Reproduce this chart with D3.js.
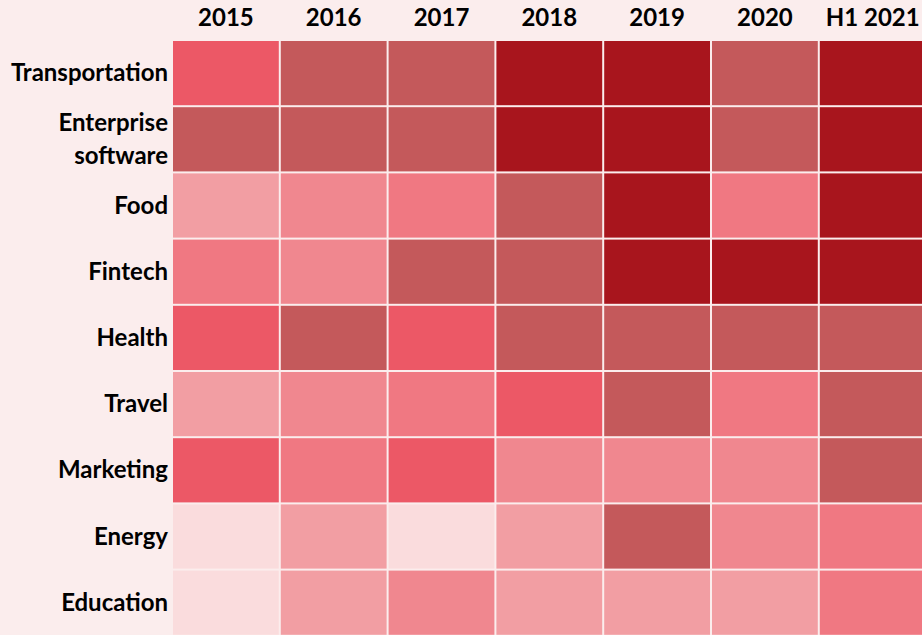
<!DOCTYPE html>
<html lang="en">
<head>
<meta charset="utf-8">
<title>Heatmap</title>
<script src="https://cdn.jsdelivr.net/npm/d3@7"></script>
<style>
    html, body { margin: 0; padding: 0; background: #fbeded; }
    svg { display: block; }
    text { font-family: Lato, "Noto Sans", sans-serif; font-weight: 700; fill: #000; }
</style>
</head>
<body>
<svg id="chart" width="922" height="635"></svg>
<script>
// years across the top
const years = ['2015', '2016', '2017', '2018', '2019', '2020', 'H1 2021'];
// sectors down the side (multi-line labels split with |)
const sectors = ['Transportation', 'Enterprise|software', 'Food', 'Fintech', 'Health',
                 'Travel', 'Marketing', 'Energy', 'Education'];
// intensity level per sector per year (1 = lightest, 7 = darkest)
const levels = [
    [5, 6, 6, 7, 7, 6, 7],
    [6, 6, 6, 7, 7, 6, 7],
    [2, 3, 4, 6, 7, 4, 7],
    [4, 3, 6, 6, 7, 7, 7],
    [5, 6, 5, 6, 6, 6, 6],
    [2, 3, 4, 5, 6, 4, 6],
    [5, 4, 5, 3, 3, 3, 6],
    [1, 2, 1, 2, 6, 3, 4],
    [1, 2, 3, 2, 2, 2, 4]
];
const palette = ['#fadcdd', '#f29ea3', '#f0878f', '#f07882', '#ec5866', '#c4595b', '#a8151d'];

const svg = d3.select('#chart');
const gridLeft = 173, gridTop = 41, cellW = 107.8, cellH = 66.2, gap = 2;

const x = d3.scaleBand().domain(years).range([gridLeft, gridLeft + cellW * years.length]);
const y = d3.scaleBand().domain(sectors).range([gridTop, gridTop + cellH * sectors.length]);
const color = d3.scaleOrdinal().domain(d3.range(1, 8)).range(palette);

const cells = [];
levels.forEach((row, i) => row.forEach((v, j) => cells.push({ s: sectors[i], yr: years[j], v: v })));

svg.append('g')
    .selectAll('rect')
    .data(cells)
    .join('rect')
    .attr('x', d => x(d.yr))
    .attr('y', d => y(d.s))
    .attr('width', x.bandwidth() - gap)
    .attr('height', y.bandwidth() - gap)
    .attr('fill', d => color(d.v));

// column headers
svg.append('g')
    .selectAll('text')
    .data(years)
    .join('text')
    .attr('x', d => x(d) + (x.bandwidth() - gap) / 2)
    .attr('y', 26)
    .attr('text-anchor', 'middle')
    .attr('font-size', '24px')
    .text(d => d);

// row labels
const lineH = 33;
const rowLabels = svg.append('g')
    .selectAll('text')
    .data(sectors)
    .join('text')
    .attr('text-anchor', 'end')
    .attr('font-size', '24px')
    .attr('transform', d => {
        const n = d.split('|').length;
        const cy = y(d) + (y.bandwidth() - gap) / 2;
        return `translate(168,${cy + 8 - (n - 1) * lineH / 2})`;
    });

rowLabels.selectAll('tspan')
    .data(d => d.split('|'))
    .join('tspan')
    .attr('x', 0)
    .attr('y', (d, i) => i * lineH)
    .text(d => d);
</script>
</body>
</html>
